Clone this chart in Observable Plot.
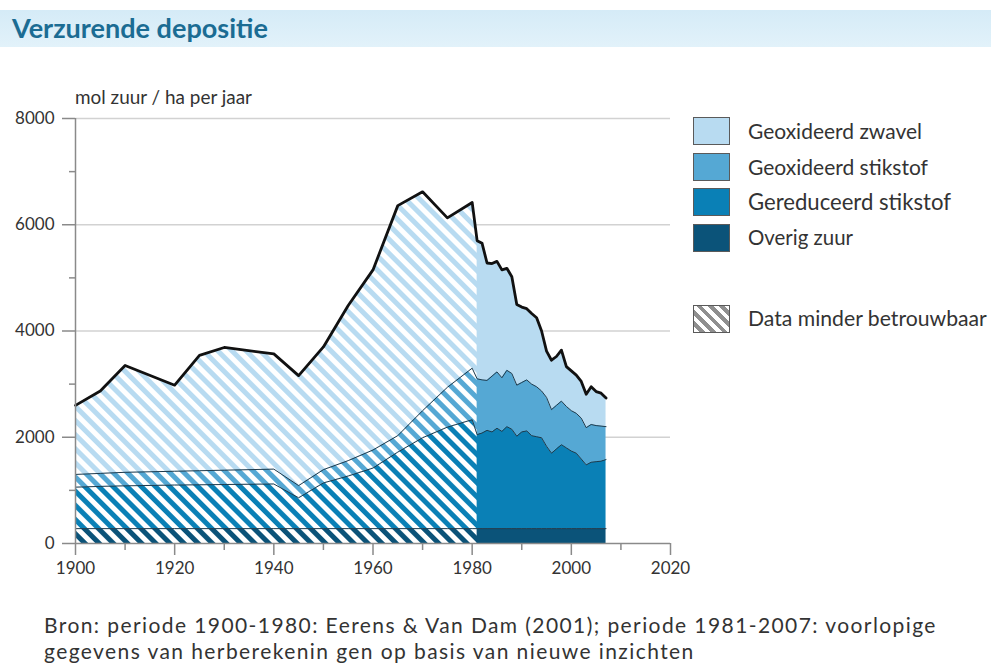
<!DOCTYPE html>
<html><head><meta charset="utf-8">
<script src="https://cdn.jsdelivr.net/npm/d3@7"></script>
<script src="https://cdn.jsdelivr.net/npm/@observablehq/plot@0.6"></script>
<style>
body{margin:0;background:#fff;font-family:Lato,"Open Sans",sans-serif;color:#333;}
#wrap{position:relative;width:991px;height:670px;overflow:hidden;background:#fff;}
#titlebar{position:absolute;left:0;top:10px;width:991px;height:37px;background:linear-gradient(#d5ebf7,#e2f2fa);}
#title{position:absolute;left:12px;top:14px;font-weight:bold;font-size:24px;color:#1b6c93;white-space:nowrap;line-height:28px;}
#ylabel{position:absolute;left:75px;top:88px;font-size:15px;color:#333;white-space:nowrap;line-height:18px;}
#chart{position:absolute;left:0;top:80px;}
#legend{position:absolute;left:693px;top:117px;}
.item{position:absolute;left:0;height:28px;white-space:nowrap;}
.sw{position:absolute;left:0;top:0;width:35px;height:26px;border:1px solid #5a5a5a;}
.lt{position:absolute;left:55px;top:3px;font-size:17px;line-height:21px;color:#333;}
#caption{position:absolute;left:44px;top:612px;font-size:21px;line-height:26px;color:#333;white-space:nowrap;}
</style></head>
<body><div id="wrap">
<div id="titlebar"></div>
<div id="title" data-w="256">Verzurende depositie</div>
<div id="ylabel" data-w="177">mol zuur / ha per jaar</div>
<div id="chart"></div>
<div id="legend"></div>
<div id="caption"><span id="cap1">Bron: periode 1900-1980: Eerens &amp; Van Dam (2001); periode 1981-2007: voorlopige</span><br><span id="cap2">gegevens van herberekenin gen op basis van nieuwe inzichten</span></div>
</div>
<script>
// ---- data ----
const series = ["Geoxideerd zwavel","Geoxideerd stikstof","Gereduceerd stikstof","Overig zuur"];
const colors = ["#b8dbf1","#55a8d4","#0a80b6","#0b5379"];
const legendWidths = [174,180,203,105];
const reliabilityLabel = "Data minder betrouwbaar";
const reliableFrom = 1981;
const years = [1900,1905,1910,1920,1925,1930,1940,1945,1950,1955,1960,1965,1970,1975,1980,
  1981,1982,1983,1984,1985,1986,1987,1988,1989,1990,1991,1992,1993,1994,1995,1996,1997,1998,1999,2000,2001,2002,2003,2004,2005,2006,2007];
const zwavel = [1300,1550,2010,1620,2170,2310,2170,2070,2310,2920,3390,4330,4120,3190,3120,
  2600,2570,2210,2120,2080,2030,1920,1820,1520,1420,1340,1330,1300,1130,870,930,920,960,750,750,720,690,630,710,640,620,540];
const stikstofOx = [240,245,255,260,265,270,280,230,250,290,340,310,510,750,970,
  1050,1000,940,1050,1060,1010,1060,1050,960,930,960,970,940,880,920,820,820,820,780,760,750,770,700,710,680,660,620];
const stikstofRed = [780,795,805,820,825,830,840,580,860,990,1140,1440,1710,1910,2050,
  1770,1800,1850,1820,1890,1830,1920,1870,1740,1820,1840,1750,1730,1710,1550,1420,1500,1580,1520,1460,1420,1310,1200,1250,1260,1270,1300];
const overig = years.map(() => 280);
const xMajor = [1900,1920,1940,1960,1980,2000,2020];
const xMinor = [1910,1930,1950,1970,1990,2010];
const yMajor = [0,2000,4000,6000,8000];
const yMinor = [1000,3000,5000,7000];

// ---- table ----
const valuesBySeries = [zwavel, stikstofOx, stikstofRed, overig];
const rows = [];
series.forEach((s, k) => years.forEach((y, i) => rows.push({year: y, series: s, value: valuesBySeries[k][i]})));
const stackOrder = series.slice().reverse();
const axisGray = "#8a8a8a";

const defs = () => {
  const d = d3.create("svg:defs");
  const p = d.append("pattern").attr("id","stripes").attr("patternUnits","userSpaceOnUse")
    .attr("width",10).attr("height",10).attr("patternTransform","rotate(45)");
  p.append("rect").attr("x",0).attr("y",0).attr("width",10).attr("height",5).attr("fill","white");
  return d.node();
};

const chart = Plot.plot({
  width: 700, height: 510,
  marginLeft: 75, marginRight: 30, marginTop: 38, marginBottom: 47,
  x: {domain: [1900, 2020], label: null},
  y: {domain: [0, 8000], label: null},
  color: {domain: series, range: colors},
  style: {fontFamily: "Lato, sans-serif", fontSize: "17px", color: "#333", background: "transparent", overflow: "visible"},
  marks: [
    defs,
    Plot.gridY(yMajor.slice(1), {stroke: "#d2d2d2", strokeOpacity: 1, strokeWidth: 1.3}),
    Plot.areaY(rows, Plot.stackY({x: "year", y: "value", z: "series", fill: "series", order: stackOrder})),
    Plot.areaY(rows.filter(d => d.year <= reliableFrom), Plot.stackY({x: "year", y: "value", z: "series", order: stackOrder, fill: "url(#stripes)"})),
    Plot.lineY(rows, Plot.filter(d => d.series !== series[0], Plot.stackY2({x: "year", y: "value", z: "series", order: stackOrder, stroke: "#1f3b4d", strokeWidth: 1}))),
    Plot.lineY(rows, Plot.filter(d => d.series === series[0], Plot.stackY2({x: "year", y: "value", z: "series", order: stackOrder, stroke: "#111", strokeWidth: 2.8, strokeLinejoin: "round"}))),
    Plot.ruleY([yMajor[0]], {stroke: axisGray, strokeWidth: 1.5}),
    Plot.ruleX([xMajor[0]], {stroke: axisGray, strokeWidth: 1.5, y1: yMajor[0], y2: yMajor[yMajor.length-1]}),
    Plot.axisY(yMajor, {tickSize: 13, tickPadding: 8, tickFormat: d => String(d), stroke: axisGray, strokeWidth: 1.5, fill: "#333", label: null, fontSize: 17}),
    Plot.axisY(yMinor, {tickSize: 6, tickFormat: () => "", stroke: axisGray, strokeWidth: 1.5, label: null}),
    Plot.axisX(xMajor, {tickSize: 12, tickPadding: 6, tickFormat: d => String(d), stroke: axisGray, strokeWidth: 1.5, fill: "#333", label: null, fontSize: 17}),
    Plot.axisX(xMinor, {tickSize: 7, tickFormat: () => "", stroke: axisGray, strokeWidth: 1.5, label: null})
  ]
});
document.getElementById("chart").appendChild(chart);

// ---- legend ----
const legend = document.getElementById("legend");
series.forEach((s, i) => {
  const it = document.createElement("div");
  it.className = "item"; it.style.top = (i * 35.5) + "px";
  it.innerHTML = `<div class="sw" style="background:${colors[i]}"></div><div class="lt" data-w="${legendWidths[i]}">${s}</div>`;
  legend.appendChild(it);
});
const h = document.createElement("div");
h.className = "item"; h.style.top = "188px";
h.innerHTML = `<div class="sw" style="background:repeating-linear-gradient(45deg,#fff 0 4px,#8f8f8f 4px 8px)"></div><div class="lt" data-w="239">${reliabilityLabel}</div>`;
legend.appendChild(h);

// fit text widths
document.querySelectorAll("[data-w]").forEach(el => {
  el.style.display = "inline-block";
  const target = +el.dataset.w;
  const fs = parseFloat(getComputedStyle(el).fontSize);
  const w = el.getBoundingClientRect().width;
  if (w > 0) el.style.fontSize = (fs * target / w).toFixed(2) + "px";
});
// caption: keep size, widen with letter-spacing to match reference width
const cap1 = document.getElementById("cap1");
const cw = cap1.getBoundingClientRect().width;
const ls = Math.max(0, (893 - cw) / cap1.textContent.length);
document.getElementById("caption").style.letterSpacing = ls.toFixed(2) + "px";
</script>
</body></html>
